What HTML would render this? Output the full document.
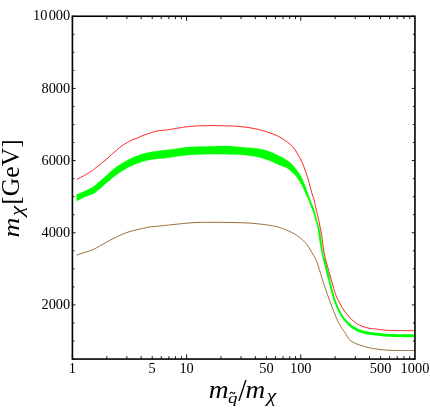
<!DOCTYPE html>
<html><head><meta charset="utf-8"><title>plot</title>
<style>
html,body{margin:0;padding:0;background:#fff;}
body{width:430px;height:409px;overflow:hidden;position:relative;font-family:"Liberation Serif",serif;}
svg{position:absolute;left:0;top:0;display:block;will-change:transform;}
text{font-family:"Liberation Serif",serif;fill:#000;}
.tk text{font-size:15.3px;}
</style></head><body>
<svg width="430" height="409" viewBox="0 0 430 409">
<rect width="430" height="409" fill="#fff"/>
<path d="M76.60 255.10 C77.83 254.69 81.38 253.51 84.00 252.65 C86.62 251.79 89.52 251.15 92.30 249.95 C95.08 248.75 97.90 247.00 100.70 245.45 C103.50 243.90 106.32 242.13 109.10 240.65 C111.88 239.17 114.62 237.85 117.40 236.55 C120.18 235.25 123.00 233.88 125.80 232.85 C128.60 231.82 131.40 231.08 134.20 230.35 C137.00 229.62 139.82 229.05 142.60 228.45 C145.38 227.85 148.12 227.13 150.90 226.75 C153.68 226.37 156.03 226.47 159.30 226.15 C162.57 225.83 166.78 225.21 170.50 224.80 C174.22 224.39 177.68 224.07 181.60 223.70 C185.52 223.33 189.62 222.83 194.00 222.60 C198.38 222.37 203.25 222.35 207.90 222.30 C212.55 222.25 217.25 222.25 221.90 222.30 C226.55 222.35 231.15 222.47 235.80 222.60 C240.45 222.73 245.15 222.78 249.80 223.10 C254.45 223.42 259.52 223.98 263.70 224.50 C267.88 225.02 271.82 225.55 274.90 226.20 C277.98 226.85 279.93 227.62 282.20 228.40 C284.47 229.18 286.47 229.98 288.50 230.90 C290.53 231.82 292.38 232.68 294.40 233.90 C296.42 235.12 298.55 236.47 300.60 238.20 C302.65 239.93 304.67 241.65 306.70 244.30 C308.73 246.95 311.23 251.48 312.80 254.10 C314.37 256.72 315.17 257.93 316.10 260.00 C317.03 262.07 317.23 262.90 318.40 266.50 C319.57 270.10 321.53 276.75 323.10 281.60 C324.67 286.45 326.23 291.18 327.80 295.60 C329.37 300.02 330.93 304.07 332.50 308.10 C334.07 312.13 335.95 316.97 337.20 319.80 C338.45 322.63 339.10 323.48 340.00 325.10 C340.90 326.72 341.68 328.13 342.60 329.50 C343.52 330.87 344.37 331.62 345.50 333.30 C346.63 334.98 347.70 337.90 349.40 339.60 C351.10 341.30 353.35 342.40 355.70 343.50 C358.05 344.60 361.12 345.47 363.50 346.20 C365.88 346.93 367.25 347.35 370.00 347.90 C372.75 348.45 376.67 349.10 380.00 349.50 C383.33 349.90 386.55 350.13 390.00 350.30 C393.45 350.47 396.62 350.47 400.70 350.50 C404.78 350.53 412.20 350.50 414.50 350.50" fill="none" stroke="#996633" stroke-width="0.95" stroke-linejoin="round"/>
<path d="M76.60 194.50 C78.08 193.87 82.80 191.97 85.50 190.70 C88.20 189.43 91.07 187.95 92.80 186.90 C94.53 185.85 94.50 185.55 95.90 184.40 C97.30 183.25 99.45 181.50 101.20 180.00 C102.95 178.50 104.67 176.93 106.40 175.40 C108.13 173.87 109.87 172.27 111.60 170.80 C113.33 169.33 115.05 167.85 116.80 166.60 C118.55 165.35 120.35 164.35 122.10 163.30 C123.85 162.25 125.57 161.22 127.30 160.30 C129.03 159.38 130.75 158.60 132.50 157.80 C134.25 157.00 136.05 156.17 137.80 155.50 C139.55 154.83 141.27 154.30 143.00 153.80 C144.73 153.30 146.45 152.87 148.20 152.50 C149.95 152.13 151.75 151.87 153.50 151.60 C155.25 151.33 156.80 151.15 158.70 150.90 C160.60 150.65 161.93 150.47 164.90 150.10 C167.87 149.73 172.63 149.20 176.50 148.70 C180.37 148.20 184.22 147.45 188.10 147.10 C191.98 146.75 195.92 146.75 199.80 146.60 C203.68 146.45 207.53 146.30 211.40 146.20 C215.27 146.10 219.63 146.00 223.00 146.00 C226.37 146.00 228.77 146.03 231.60 146.20 C234.43 146.37 236.93 146.73 240.00 147.00 C243.07 147.27 246.70 147.48 250.00 147.80 C253.30 148.12 256.53 148.28 259.80 148.90 C263.07 149.52 266.35 150.30 269.60 151.50 C272.85 152.70 276.75 154.87 279.30 156.10 C281.85 157.33 283.15 157.88 284.90 158.90 C286.65 159.92 288.17 160.82 289.80 162.20 C291.43 163.58 293.07 165.22 294.70 167.20 C296.33 169.18 298.30 172.07 299.60 174.10 C300.90 176.13 301.53 177.37 302.50 179.40 C303.47 181.43 304.57 184.12 305.40 186.30 C306.23 188.48 306.82 190.63 307.50 192.50 C308.18 194.37 308.82 195.68 309.50 197.50 C310.18 199.32 310.95 201.82 311.60 203.40 C312.25 204.98 312.84 205.52 313.40 207.00 C313.96 208.48 314.36 210.18 314.95 212.30 C315.54 214.42 316.25 217.25 316.95 219.70 C317.65 222.15 318.55 224.57 319.15 227.00 C319.75 229.43 320.15 231.85 320.55 234.30 C320.95 236.75 321.23 239.25 321.55 241.70 C321.87 244.15 322.07 246.57 322.45 249.00 C322.83 251.43 323.25 253.63 323.85 256.30 C324.45 258.97 325.08 261.47 326.05 265.00 C327.02 268.53 329.09 275.42 329.70 277.50 L327.90 278.50 C327.39 276.25 325.79 268.70 324.85 265.00 C323.91 261.30 322.92 258.97 322.25 256.30 C321.58 253.63 321.28 251.43 320.85 249.00 C320.42 246.57 320.03 244.15 319.65 241.70 C319.27 239.25 318.90 236.75 318.55 234.30 C318.20 231.85 318.08 229.43 317.55 227.00 C317.02 224.57 316.12 222.33 315.35 219.70 C314.58 217.07 313.74 213.67 312.90 211.20 C312.06 208.73 311.17 207.10 310.30 204.90 C309.43 202.70 308.43 199.73 307.70 198.00 C306.97 196.27 306.57 195.97 305.90 194.50 C305.23 193.03 304.55 191.05 303.70 189.20 C302.85 187.35 302.10 185.60 300.80 183.40 C299.50 181.20 297.63 178.12 295.90 176.00 C294.17 173.88 292.13 172.15 290.40 170.70 C288.67 169.25 287.35 168.27 285.50 167.30 C283.65 166.33 281.95 166.00 279.30 164.90 C276.65 163.80 272.85 161.93 269.60 160.70 C266.35 159.47 263.07 158.33 259.80 157.50 C256.53 156.67 253.30 156.15 250.00 155.70 C246.70 155.25 243.07 155.00 240.00 154.80 C236.93 154.60 234.43 154.58 231.60 154.50 C228.77 154.42 226.37 154.35 223.00 154.30 C219.63 154.25 215.27 154.18 211.40 154.20 C207.53 154.22 203.68 154.25 199.80 154.40 C195.92 154.55 191.98 154.73 188.10 155.10 C184.22 155.47 180.37 156.07 176.50 156.60 C172.63 157.13 167.87 157.95 164.90 158.30 C161.93 158.65 160.60 158.53 158.70 158.70 C156.80 158.87 155.25 159.03 153.50 159.30 C151.75 159.57 149.95 159.92 148.20 160.30 C146.45 160.68 144.73 161.10 143.00 161.60 C141.27 162.10 139.55 162.63 137.80 163.30 C136.05 163.97 134.25 164.80 132.50 165.60 C130.75 166.40 129.03 167.20 127.30 168.10 C125.57 169.00 123.85 169.92 122.10 171.00 C120.35 172.08 118.55 173.32 116.80 174.60 C115.05 175.88 113.33 177.28 111.60 178.70 C109.87 180.12 108.13 181.60 106.40 183.10 C104.67 184.60 102.95 186.23 101.20 187.70 C99.45 189.17 97.30 190.85 95.90 191.90 C94.50 192.95 94.53 193.18 92.80 194.00 C91.07 194.82 88.20 195.60 85.50 196.80 C82.80 198.00 78.08 200.47 76.60 201.20Z" fill="#00ff00" stroke="#00ff00" stroke-width="0.2" stroke-linejoin="round"/>
<path d="M322.95 258.21 L323.02 258.53 L323.10 258.90 L323.20 259.32 L323.30 259.80 L323.42 260.32 L323.54 260.89 L323.68 261.51 L323.83 262.17 L323.99 262.88 L324.17 263.62 L324.35 264.41 L324.55 265.23 L324.77 266.12 L325.01 267.08 L325.27 268.12 L325.55 269.21 L325.83 270.34 L326.13 271.50 L326.43 272.67 L326.73 273.85 L327.03 275.02 L327.31 276.16 L327.59 277.27 L327.85 278.33 L328.10 279.36 L328.34 280.37 L328.58 281.38 L328.81 282.38 L329.04 283.36 L329.27 284.35 L329.50 285.32 L329.72 286.28 L329.95 287.24 L330.18 288.18 L330.42 289.12 L330.66 290.05 L330.90 290.96 L331.14 291.87 L331.38 292.76 L331.63 293.65 L331.87 294.53 L332.12 295.40 L332.37 296.26 L332.62 297.11 L332.88 297.95 L333.14 298.78 L333.41 299.60 L333.68 300.41 L333.95 301.21 L334.23 301.99 L334.50 302.76 L334.78 303.52 L335.07 304.27 L335.36 305.01 L335.65 305.74 L335.95 306.47 L336.25 307.19 L336.57 307.90 L336.89 308.61 L337.22 309.32 L337.56 310.03 L337.91 310.74 L338.27 311.45 L338.63 312.15 L339.01 312.85 L339.38 313.55 L339.76 314.23 L340.14 314.89 L340.53 315.54 L340.91 316.17 L341.28 316.78 L341.66 317.36 L342.03 317.92 L342.41 318.45 L342.78 318.96 L343.16 319.45 L343.53 319.92 L343.90 320.37 L344.27 320.81 L344.64 321.23 L345.01 321.65 L345.38 322.05 L345.74 322.45 L346.10 322.85 L346.46 323.24 L346.81 323.63 L347.16 324.00 L347.51 324.37 L347.87 324.73 L348.22 325.09 L348.58 325.44 L348.96 325.79 L349.34 326.13 L349.73 326.48 L350.14 326.82 L350.57 327.16 L351.02 327.51 L351.47 327.85 L351.95 328.19 L352.43 328.53 L352.93 328.87 L353.43 329.20 L353.94 329.53 L354.45 329.85 L354.97 330.16 L355.48 330.45 L355.99 330.74 L356.50 331.01 L357.00 331.26 L357.50 331.50 L357.99 331.73 L358.48 331.94 L358.97 332.15 L359.47 332.35 L359.97 332.53 L360.48 332.71 L361.00 332.89 L361.53 333.05 L362.07 333.22 L362.63 333.37 L363.20 333.53 L363.78 333.67 L364.36 333.80 L364.95 333.93 L365.55 334.05 L366.15 334.16 L366.77 334.27 L367.40 334.38 L368.04 334.49 L368.71 334.60 L369.39 334.70 L370.09 334.81 L370.83 334.92 L371.63 335.03 L372.46 335.14 L373.31 335.25 L374.19 335.36 L375.06 335.46 L375.93 335.57 L376.79 335.67 L377.62 335.76 L378.41 335.85 L379.15 335.94 L379.84 336.02 L380.44 336.09 L380.96 336.15 L381.42 336.21 L381.85 336.27 L382.25 336.32 L382.65 336.37 L383.07 336.41 L383.52 336.46 L384.01 336.50 L384.56 336.54 L385.19 336.58 L385.92 336.62 L386.74 336.66 L387.62 336.70 L388.55 336.74 L389.54 336.78 L390.57 336.82 L391.64 336.85 L392.74 336.88 L393.87 336.91 L395.03 336.94 L396.20 336.97 L397.38 337.00 L398.57 337.02 L399.83 337.05 L401.22 337.07 L402.70 337.09 L404.23 337.11 L405.78 337.13 L407.32 337.15 L408.82 337.17 L410.24 337.18 L411.55 337.19 L412.72 337.21 L413.71 337.22 L414.48 337.22 L414.52 334.38 L413.74 334.37 L412.75 334.36 L411.58 334.34 L410.27 334.33 L408.85 334.32 L407.35 334.30 L405.81 334.28 L404.26 334.26 L402.74 334.24 L401.27 334.22 L399.89 334.20 L398.63 334.18 L397.45 334.15 L396.27 334.12 L395.10 334.09 L393.95 334.06 L392.82 334.03 L391.73 334.00 L390.66 333.97 L389.64 333.93 L388.66 333.89 L387.74 333.86 L386.88 333.82 L386.08 333.78 L385.37 333.74 L384.76 333.70 L384.24 333.66 L383.78 333.62 L383.37 333.58 L382.98 333.53 L382.60 333.49 L382.21 333.44 L381.79 333.38 L381.32 333.32 L380.78 333.26 L380.16 333.18 L379.47 333.11 L378.73 333.02 L377.94 332.93 L377.12 332.84 L376.27 332.74 L375.40 332.64 L374.53 332.53 L373.67 332.42 L372.83 332.32 L372.01 332.21 L371.24 332.10 L370.51 331.99 L369.82 331.88 L369.15 331.78 L368.50 331.68 L367.87 331.57 L367.26 331.47 L366.67 331.36 L366.09 331.25 L365.53 331.14 L364.98 331.02 L364.44 330.90 L363.90 330.76 L363.37 330.63 L362.85 330.48 L362.34 330.34 L361.85 330.19 L361.37 330.04 L360.90 329.89 L360.44 329.73 L359.99 329.56 L359.53 329.39 L359.08 329.21 L358.63 329.01 L358.17 328.81 L357.70 328.59 L357.22 328.36 L356.74 328.12 L356.25 327.86 L355.76 327.60 L355.27 327.32 L354.78 327.03 L354.30 326.74 L353.82 326.44 L353.35 326.14 L352.89 325.84 L352.45 325.54 L352.03 325.24 L351.62 324.94 L351.24 324.64 L350.87 324.34 L350.50 324.04 L350.15 323.74 L349.80 323.42 L349.46 323.10 L349.12 322.78 L348.77 322.44 L348.42 322.09 L348.07 321.73 L347.70 321.35 L347.33 320.96 L346.96 320.58 L346.59 320.19 L346.22 319.81 L345.86 319.41 L345.50 319.00 L345.14 318.59 L344.78 318.16 L344.42 317.71 L344.06 317.24 L343.70 316.75 L343.34 316.24 L342.98 315.69 L342.61 315.12 L342.23 314.51 L341.86 313.89 L341.48 313.25 L341.10 312.59 L340.73 311.92 L340.37 311.24 L340.01 310.55 L339.65 309.86 L339.31 309.17 L338.98 308.48 L338.66 307.80 L338.35 307.11 L338.05 306.41 L337.75 305.71 L337.46 305.01 L337.17 304.29 L336.89 303.57 L336.61 302.84 L336.33 302.09 L336.06 301.34 L335.79 300.57 L335.52 299.79 L335.26 298.99 L335.00 298.19 L334.74 297.37 L334.49 296.55 L334.24 295.71 L333.99 294.86 L333.75 294.00 L333.51 293.13 L333.26 292.25 L333.02 291.36 L332.78 290.46 L332.54 289.55 L332.31 288.64 L332.07 287.71 L331.85 286.78 L331.62 285.83 L331.39 284.87 L331.17 283.90 L330.94 282.93 L330.71 281.94 L330.48 280.93 L330.24 279.92 L330.00 278.90 L329.75 277.87 L329.48 276.80 L329.20 275.69 L328.92 274.54 L328.62 273.37 L328.32 272.19 L328.02 271.02 L327.72 269.86 L327.44 268.73 L327.16 267.64 L326.90 266.61 L326.66 265.65 L326.45 264.77 L326.25 263.95 L326.07 263.18 L325.89 262.44 L325.73 261.74 L325.58 261.08 L325.45 260.47 L325.32 259.90 L325.20 259.38 L325.10 258.91 L325.01 258.48 L324.92 258.11 L324.85 257.79Z" fill="#00ff00" stroke="none"/>
<path d="M76.60 179.50 C78.08 178.72 82.80 176.35 85.50 174.80 C88.20 173.25 91.07 171.38 92.80 170.20 C94.53 169.02 94.50 168.82 95.90 167.70 C97.30 166.58 99.45 164.90 101.20 163.50 C102.95 162.10 104.67 160.80 106.40 159.30 C108.13 157.80 109.87 156.07 111.60 154.50 C113.33 152.93 115.05 151.37 116.80 149.90 C118.55 148.43 120.35 146.93 122.10 145.70 C123.85 144.47 125.57 143.48 127.30 142.50 C129.03 141.52 130.75 140.58 132.50 139.80 C134.25 139.02 136.05 138.52 137.80 137.80 C139.55 137.08 141.27 136.20 143.00 135.50 C144.73 134.80 146.45 134.20 148.20 133.60 C149.95 133.00 151.75 132.38 153.50 131.90 C155.25 131.42 156.80 130.98 158.70 130.70 C160.60 130.42 161.93 130.58 164.90 130.20 C167.87 129.82 172.63 129.00 176.50 128.40 C180.37 127.80 184.22 127.03 188.10 126.60 C191.98 126.17 195.92 125.97 199.80 125.80 C203.68 125.63 207.53 125.60 211.40 125.60 C215.27 125.60 219.63 125.73 223.00 125.80 C226.37 125.87 228.77 125.88 231.60 126.00 C234.43 126.12 237.05 126.22 240.00 126.50 C242.95 126.78 246.20 127.20 249.30 127.70 C252.40 128.20 255.50 128.77 258.60 129.50 C261.70 130.23 264.80 131.05 267.90 132.10 C271.00 133.15 274.40 134.47 277.20 135.80 C280.00 137.13 282.53 138.67 284.70 140.10 C286.87 141.53 288.50 142.85 290.20 144.40 C291.90 145.95 293.58 147.63 294.90 149.40 C296.22 151.17 297.08 153.25 298.10 155.00 C299.12 156.75 300.10 158.10 301.00 159.90 C301.90 161.70 302.73 163.85 303.50 165.80 C304.27 167.75 304.92 169.65 305.60 171.60 C306.28 173.55 306.98 175.53 307.60 177.50 C308.22 179.47 308.77 181.45 309.30 183.40 C309.83 185.35 310.28 187.27 310.80 189.20 C311.32 191.13 311.88 193.37 312.40 195.00 C312.92 196.63 313.38 197.12 313.90 199.00 C314.42 200.88 314.97 203.88 315.50 206.30 C316.03 208.72 316.55 211.13 317.10 213.50 C317.65 215.87 318.27 218.08 318.80 220.50 C319.33 222.92 319.82 225.58 320.30 228.00 C320.78 230.42 321.32 232.60 321.70 235.00 C322.08 237.40 322.28 239.90 322.60 242.40 C322.92 244.90 323.22 247.68 323.60 250.00 C323.98 252.32 324.28 253.72 324.90 256.30 C325.52 258.88 326.32 261.87 327.30 265.50 C328.28 269.13 329.73 274.28 330.80 278.10 C331.87 281.92 332.73 285.23 333.70 288.40 C334.67 291.57 335.80 295.07 336.60 297.10 C337.40 299.13 337.80 299.25 338.50 300.60 C339.20 301.95 339.93 303.63 340.80 305.20 C341.67 306.77 342.73 308.57 343.70 310.00 C344.67 311.43 345.53 312.48 346.60 313.80 C347.67 315.12 348.93 316.65 350.10 317.90 C351.27 319.15 352.23 320.20 353.60 321.30 C354.97 322.40 356.55 323.57 358.30 324.50 C360.05 325.43 362.17 326.25 364.10 326.90 C366.03 327.55 367.98 328.05 369.90 328.40 C371.82 328.75 372.92 328.70 375.60 329.00 C378.28 329.30 382.17 329.93 386.00 330.20 C389.83 330.47 393.85 330.53 398.60 330.60 C403.35 330.67 411.85 330.60 414.50 330.60" fill="none" stroke="#ff0000" stroke-width="0.85" stroke-linejoin="round"/>
<path d="M72.40 359.05L72.40 354.35M72.40 16.25L72.40 20.95M106.77 359.05L106.77 356.15M106.77 16.25L106.77 19.15M126.88 359.05L126.88 356.15M126.88 16.25L126.88 19.15M141.15 359.05L141.15 356.15M141.15 16.25L141.15 19.15M152.21 359.05L152.21 356.15M152.21 16.25L152.21 19.15M161.25 359.05L161.25 356.15M161.25 16.25L161.25 19.15M168.90 359.05L168.90 356.15M168.90 16.25L168.90 19.15M175.52 359.05L175.52 356.15M175.52 16.25L175.52 19.15M181.36 359.05L181.36 356.15M181.36 16.25L181.36 19.15M186.58 359.05L186.58 354.35M186.58 16.25L186.58 20.95M220.96 359.05L220.96 356.15M220.96 16.25L220.96 19.15M241.06 359.05L241.06 356.15M241.06 16.25L241.06 19.15M255.33 359.05L255.33 356.15M255.33 16.25L255.33 19.15M266.39 359.05L266.39 356.15M266.39 16.25L266.39 19.15M275.44 359.05L275.44 356.15M275.44 16.25L275.44 19.15M283.08 359.05L283.08 356.15M283.08 16.25L283.08 19.15M289.70 359.05L289.70 356.15M289.70 16.25L289.70 19.15M295.54 359.05L295.54 356.15M295.54 16.25L295.54 19.15M300.77 359.05L300.77 354.35M300.77 16.25L300.77 20.95M335.14 359.05L335.14 356.15M335.14 16.25L335.14 19.15M355.25 359.05L355.25 356.15M355.25 16.25L355.25 19.15M369.51 359.05L369.51 356.15M369.51 16.25L369.51 19.15M380.58 359.05L380.58 356.15M380.58 16.25L380.58 19.15M389.62 359.05L389.62 356.15M389.62 16.25L389.62 19.15M397.26 359.05L397.26 356.15M397.26 16.25L397.26 19.15M403.88 359.05L403.88 356.15M403.88 16.25L403.88 19.15M409.73 359.05L409.73 356.15M409.73 16.25L409.73 19.15M72.40 359.05L74.50 359.05M414.95 359.05L412.85 359.05M72.40 341.01L74.50 341.01M414.95 341.01L412.85 341.01M72.40 322.97L74.50 322.97M414.95 322.97L412.85 322.97M72.40 304.92L75.60 304.92M414.95 304.92L411.75 304.92M72.40 286.88L74.50 286.88M414.95 286.88L412.85 286.88M72.40 268.84L74.50 268.84M414.95 268.84L412.85 268.84M72.40 250.80L74.50 250.80M414.95 250.80L412.85 250.80M72.40 232.76L75.60 232.76M414.95 232.76L411.75 232.76M72.40 214.71L74.50 214.71M414.95 214.71L412.85 214.71M72.40 196.67L74.50 196.67M414.95 196.67L412.85 196.67M72.40 178.63L74.50 178.63M414.95 178.63L412.85 178.63M72.40 160.59L75.60 160.59M414.95 160.59L411.75 160.59M72.40 142.54L74.50 142.54M414.95 142.54L412.85 142.54M72.40 124.50L74.50 124.50M414.95 124.50L412.85 124.50M72.40 106.46L74.50 106.46M414.95 106.46L412.85 106.46M72.40 88.42L75.60 88.42M414.95 88.42L411.75 88.42M72.40 70.38L74.50 70.38M414.95 70.38L412.85 70.38M72.40 52.33L74.50 52.33M414.95 52.33L412.85 52.33M72.40 34.29L74.50 34.29M414.95 34.29L412.85 34.29M72.40 16.25L75.60 16.25M414.95 16.25L411.75 16.25" fill="none" stroke="#000" stroke-width="0.9"/>
<rect x="72.40" y="16.25" width="342.55" height="342.80" fill="none" stroke="#000" stroke-width="1.6"/>
<g class="tk"><text transform="translate(72.40,373) scale(0.940,1)" text-anchor="middle">1</text><text transform="translate(152.21,373) scale(0.940,1)" text-anchor="middle">5</text><text transform="translate(186.58,373) scale(0.940,1)" text-anchor="middle">10</text><text transform="translate(266.39,373) scale(0.940,1)" text-anchor="middle">50</text><text transform="translate(300.77,373) scale(0.940,1)" text-anchor="middle">100</text><text transform="translate(380.58,373) scale(0.940,1)" text-anchor="middle">500</text><text transform="translate(414.95,373) scale(0.940,1)" text-anchor="middle">1000</text><text transform="translate(70.2,309.12) scale(0.940,1)" text-anchor="end">2000</text><text transform="translate(70.2,236.96) scale(0.940,1)" text-anchor="end">4000</text><text transform="translate(70.2,164.79) scale(0.940,1)" text-anchor="end">6000</text><text transform="translate(70.2,92.62) scale(0.940,1)" text-anchor="end">8000</text><text transform="translate(70.2,20.25) scale(0.940,1)" text-anchor="end">10<tspan dx="1.3">000</tspan></text></g>
<g><text transform="translate(208.698,397.700) scale(1.1447,1.0222)" font-size="24" font-style="italic">m</text><text transform="translate(228.000,403.163) scale(1.1200,0.9204)" font-size="17" font-style="italic">q</text><path d="M230.0 394.0 C230.5 391.9 231.9 392.0 232.6 392.8 C233.3 393.7 234.5 393.9 235.0 392.0" fill="none" stroke="#000" stroke-width="1.05"/><text transform="translate(238.300,400.977) scale(1.2528,1.2937)" font-size="24">/</text><text transform="translate(245.604,397.800) scale(1.1382,1.0133)" font-size="24" font-style="italic">m</text><text transform="translate(266.748,402.421) scale(1.2712,1.1253)" font-size="17" font-style="italic">χ</text><g transform="rotate(-90)"><text transform="translate(-237.607,18.500) scale(1.1512,0.9956)" font-size="24" font-style="italic">m</text><text transform="translate(-216.047,23.121) scale(1.3479,1.1253)" font-size="17" font-style="italic">χ</text><text transform="translate(-204.667,19.268) scale(1.0667,1.0868)" font-size="24">[GeV]</text></g></g>
</svg>
</body></html>
